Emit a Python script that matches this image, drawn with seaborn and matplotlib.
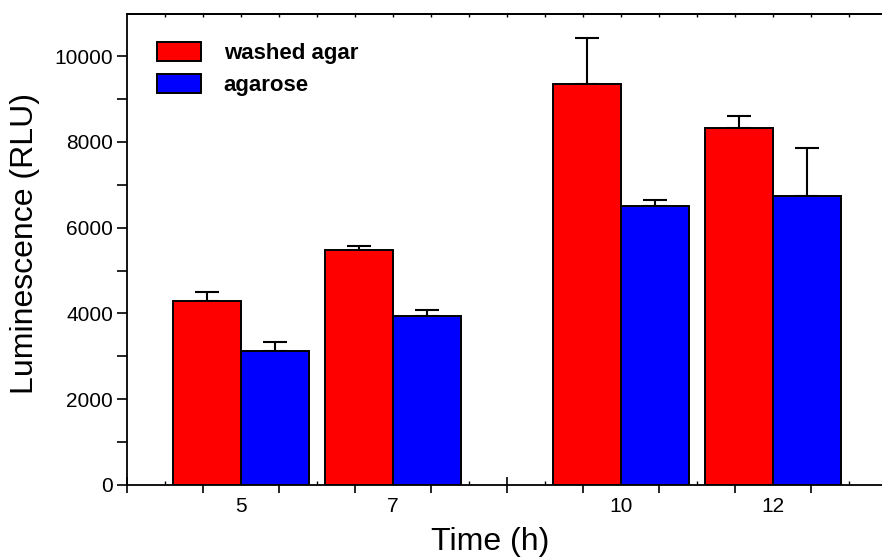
import numpy as np
import pandas as pd
import matplotlib
matplotlib.use("Agg")
import matplotlib.pyplot as plt
from matplotlib.patches import Patch
import seaborn as sns

# ---- data ----
times = [5, 7, 10, 12]
media = ["washed agar", "agarose"]
washed_agar = [4300, 5480, 9340, 8315]
washed_agar_err = [195, 95, 1075, 280]
agarose = [3130, 3940, 6510, 6740]
agarose_err = [200, 135, 135, 1110]
colors = {"washed agar": "#FF0000", "agarose": "#0000FF"}

df = pd.DataFrame({
    "time": times + times,
    "medium": [media[0]] * len(times) + [media[1]] * len(times),
    "lum": washed_agar + agarose,
})
errs = {media[0]: washed_agar_err, media[1]: agarose_err}

sns.set_theme(style="ticks")
plt.rcParams["font.family"] = ["Liberation Sans", "DejaVu Sans"]
plt.rcParams["text.color"] = "black"
plt.rcParams["axes.labelcolor"] = "black"
plt.rcParams["xtick.color"] = "black"
plt.rcParams["ytick.color"] = "black"
plt.rcParams["axes.edgecolor"] = "black"

W, H = 882, 560
fig = plt.figure(figsize=(W / 100, H / 100), dpi=100)
x0, x1 = 3.5, 14.0
pxu = 76.0
left_px, bottom_px, top_px = 127, 485, 14
ax = fig.add_axes([left_px / W, (H - bottom_px) / H,
                   (x1 - x0) * pxu / W, (bottom_px - top_px) / H])

sns.barplot(data=df, x="time", y="lum", hue="medium", hue_order=media,
            native_scale=True, palette=colors, saturation=1, errorbar=None,
            width=0.9, edgecolor="black", linewidth=1.4, legend=False, ax=ax,
            zorder=2)

for cont, m in zip(ax.containers, media):
    xs = [p.get_x() + p.get_width() / 2 for p in cont]
    hs = [p.get_height() for p in cont]
    e = errs[m]
    ax.errorbar(xs, hs, yerr=[np.zeros(len(e)), e], fmt="none", ecolor="black",
                elinewidth=1.5, capsize=8.3, capthick=1.5, zorder=1)

ax.set_xlim(x0, x1)
ax.set_ylim(0, 10980)

for s in ax.spines.values():
    s.set_linewidth(1.3)
    s.set_color("black")

# x ticks: major (unlabelled) at half-integers, minor at integers with labels
ax.set_xticks(np.arange(3.5, 14, 1.0))
ax.set_xticklabels([])
minor = np.arange(4, 14, 1)
ax.set_xticks(minor, minor=True)
ax.set_xticklabels([str(t) if t in times else "" for t in minor], minor=True)
ax.tick_params(axis="x", which="major", direction="inout", length=12, width=1.2)
ax.tick_params(axis="x", which="minor", direction="in", length=3, width=1.0,
               labelsize=15, pad=9)

ax.set_yticks(np.arange(0, 10001, 2000))
ax.set_yticks(np.arange(1000, 10001, 2000), minor=True)
ax.tick_params(axis="y", which="major", direction="out", length=7, width=1.2,
               labelsize=15, pad=3)
ax.tick_params(axis="y", which="minor", direction="out", length=7, width=1.2)

sec = ax.secondary_xaxis("top")
sec.set_xticks(np.arange(4, 14, 0.5))
sec.set_xticklabels([])
sec.tick_params(direction="in", length=2.5, width=1.0)
sec.spines["top"].set_linewidth(1.3)

ax.set_xlabel("Time (h)", fontsize=23)
ax.set_ylabel("Luminescence (RLU)", fontsize=23)
ax.xaxis.set_label_coords((490 - left_px) / ((x1 - x0) * pxu), (bottom_px - 527) / (bottom_px - top_px))
ax.yaxis.set_label_coords((40 - left_px) / ((x1 - x0) * pxu), (bottom_px - 243) / (bottom_px - top_px))

handles = [Patch(facecolor=colors[m], edgecolor="black", linewidth=1.4) for m in media]
fig.legend(handles, media, loc="upper left",
           bbox_to_anchor=(157 / W, 1 - 42 / H), frameon=False,
           prop={"weight": "bold", "size": 16}, handlelength=2.0,
           handleheight=0.95, handletextpad=1.0, labelspacing=0.45,
           borderpad=0, borderaxespad=0)

fig.savefig("out.png", dpi=100)
